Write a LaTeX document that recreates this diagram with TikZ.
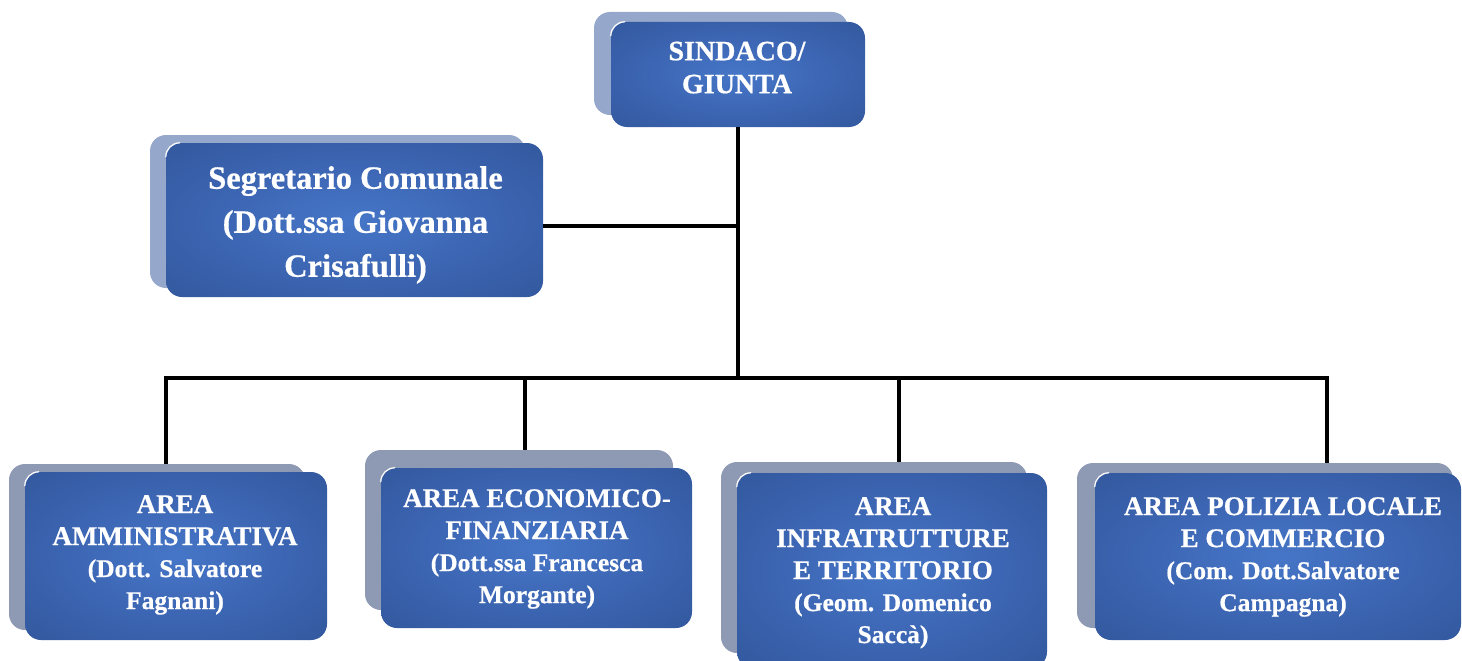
\documentclass[tikz,border=0pt]{standalone}
\usepackage{fontspec}
\setmainfont{Liberation Serif}[BoldFeatures={FakeBold=0.6}]
\usetikzlibrary{calc}
\definecolor{boxin}{HTML}{4676C8}
\definecolor{boxmid}{HTML}{3A62AE}
\definecolor{boxout}{HTML}{2E5293}
\definecolor{shtop}{HTML}{95A8CB}
\definecolor{shbot}{HTML}{8E9AB3}
\pgfdeclareradialshading{boxshade}{\pgfpoint{0bp}{0bp}}{color(0bp)=(boxin); color(22bp)=(boxmid); color(45bp)=(boxout); color(80bp)=(boxout)}
\newcommand\subf{\fontsize{25.5}{32}\selectfont}
\begin{document}
\begin{tikzpicture}[x=1pt,y=-1pt,
  front/.style={rectangle, rounded corners=16pt, inner sep=0pt, shade, shading=boxshade},
  shadowbox/.style={rectangle, rounded corners=16pt, inner sep=0pt, fill=#1},
  lbl/.style={text=white, font=\fontsize{27}{32}\selectfont\bfseries, align=center, inner sep=0pt, anchor=north},
  hl/.style={white, line width=1.2pt, line cap=round},
  link/.style={line width=4.5pt, black}]
\useasboundingbox (0,0) rectangle (1462,661);
% shadows
\node[shadowbox=shtop, minimum width=254pt, minimum height=103pt] (sh0) at (721,63.5) {};
\node[shadowbox=shtop, minimum width=375pt, minimum height=153pt] (shs) at (337.5,211.5) {};
\node[shadowbox=shbot, minimum width=296pt, minimum height=166pt] (sh1) at (157,547) {};
\node[shadowbox=shbot, minimum width=308pt, minimum height=160pt] (sh2) at (519,530) {};
\node[shadowbox=shbot, minimum width=306pt, minimum height=191pt] (sh3) at (874,557.5) {};
\node[shadowbox=shbot, minimum width=376pt, minimum height=165pt] (sh4) at (1265,545.5) {};
% front boxes
\node[front, minimum width=254pt, minimum height=105pt] (sind) at (738,74.5) {};
\node[front, minimum width=377pt, minimum height=154pt] (seg) at (354.5,220) {};
\node[front, minimum width=302pt, minimum height=168pt] (a1) at (176,556) {};
\node[front, minimum width=311pt, minimum height=160pt] (a2) at (536.5,548) {};
\node[front, minimum width=310pt, minimum height=195pt] (a3) at (892,570.5) {};
\node[front, minimum width=366pt, minimum height=167pt] (a4) at (1278,556.5) {};
% highlights
\foreach \b in {sind,seg,a1,a2,a3,a4}{
  \draw[hl] ([yshift=-14pt]\b.north west) [rounded corners=14pt] -- (\b.north west) -- ([xshift=14pt]\b.north west);
}
% texts
\node[lbl, font=\fontsize{28}{33}\selectfont\bfseries] (tsind) at (737,41.5) {SINDACO/\\GIUNTA};
\node[lbl, font=\fontsize{32.5}{44}\selectfont\bfseries] (tseg) at (355.5,166) {Segretario Comunale\\(Dott.ssa Giovanna\\Crisafulli)};
\node[lbl] (ta1) at (175,495) {AREA\\AMMINISTRATIVA\\{\subf (Dott. Salvatore}\\{\subf Fagnani)}};
\node[lbl] (ta2) at (537,489) {AREA ECONOMICO-\\FINANZIARIA\\{\subf (Dott.ssa Francesca}\\{\subf Morgante)}};
\node[lbl] (ta3) at (893,497) {AREA\\INFRATRUTTURE\\E TERRITORIO\\{\subf (Geom. Domenico}\\{\subf Saccà)}};
\node[lbl] (ta4) at (1283,497) {AREA POLIZIA LOCALE\\E COMMERCIO\\{\subf (Com. Dott.Salvatore}\\{\subf Campagna)}};
% connectors
\coordinate (d1) at (166,378);
\coordinate (d2) at (525,378);
\coordinate (d3) at (899,378);
\coordinate (d4) at (1327,378);
\coordinate (segc) at ([yshift=-6pt]seg.east);
\draw[link] (sind.south) -- (sind.south |- d1);
\draw[link] (segc) -- (segc -| sind.south);
\draw[link] (d1 |- sh1.north) -- (d1) -- (d4) -- (d4 |- sh4.north);
\draw[link] (d2) -- (d2 |- sh2.north);
\draw[link] (d3) -- (d3 |- sh3.north);
\end{tikzpicture}
\end{document}
